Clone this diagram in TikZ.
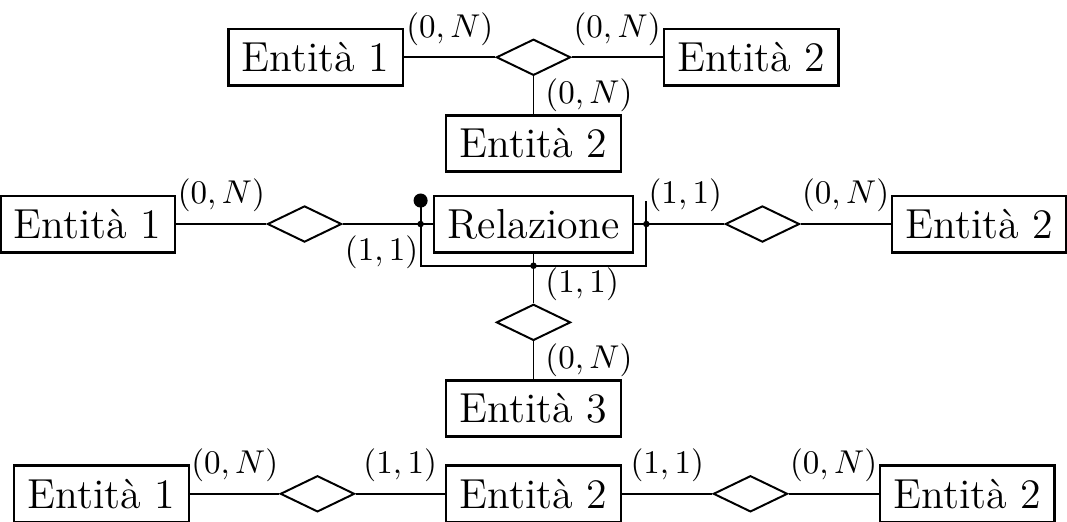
\documentclass[tikz,border=0pt]{standalone}
\usepackage{tikz}
\usetikzlibrary{positioning, calc, shapes.geometric}

\begin{document}
\begin{tikzpicture}[
    semithick,
    entitynode/.style={rectangle, draw=black, thick, font=\fontsize{12.7pt}{15pt}\selectfont, inner xsep=4.1pt, minimum height=0.6cm},
    relnode/.style={diamond, draw=black, inner sep=0pt, minimum width=0.79cm, minimum height=0.385cm},
]
\useasboundingbox (-5.68,-4.94) rectangle (5.68,0.61);
\node[relnode](d1) at (0,0){};
\node[entitynode](e1)[left = 0.97cm of d1]{Entità 1};
\node[entitynode](e2)[right = 0.97cm of d1]{Entità 2};
\node[entitynode](e3)[below = 0.4cm of d1]{Entità 2};
\draw (e1) -- node[above]{$(0,N)$} (d1);
\draw (d1) -- node[above]{$(0,N)$} (e2);
\draw (d1) -- node[right]{$(0,N)$} (e3);
\node[entitynode](r)[below = 0.23cm of e3]{Relazione};
\coordinate[left = 0.13cm of r](kl);
\coordinate[right = 0.13cm of r](kr);
\coordinate[below = 0.13cm of r](kb);
\coordinate[above = 0.25cm of kl](klt);
\coordinate[above = 0.25cm of kr](krt);
\node[relnode](d2)[left = 0.96cm of r]{};
\node[entitynode](e4)[left = 0.96cm of d2]{Entità 1};
\node[relnode](d3)[right = 0.96cm of r]{};
\node[entitynode](e5)[right = 0.96cm of d3]{Entità 2};
\node[relnode](d4)[below = 0.53cm of r]{};
\node[entitynode](e6)[below = 0.4cm of d4]{Entità 3};
\draw (e4) -- node[above]{$(0,N)$} (d2);
\draw (d2) -- node[below]{$(1,1)$} (kl) -- (r);
\draw (r) -- (kr) -- node[above]{$(1,1)$} (d3);
\draw (d3) -- node[above]{$(0,N)$} (e5);
\draw (r) -- (kb) -- node[right]{$(1,1)$} (d4);
\draw (d4) -- node[right]{$(0,N)$} (e6);
\draw (klt) -- (kl |- kb) -- (kr |- kb) -- (krt);
\fill (klt) circle (0.075);
\fill (kl) circle (0.035);
\fill (kr) circle (0.035);
\fill (kb) circle (0.035);
\node[entitynode](e8)[below = 0.28cm of e6]{Entità 2};
\node[relnode](d5)[left = 0.95cm of e8]{};
\node[entitynode](e7)[left = 0.95cm of d5]{Entità 1};
\node[relnode](d6)[right = 0.96cm of e8]{};
\node[entitynode](e9)[right = 0.96cm of d6]{Entità 2};
\draw (e7) -- node[above]{$(0,N)$} (d5);
\draw (d5) -- node[above]{$(1,1)$} (e8);
\draw (e8) -- node[above]{$(1,1)$} (d6);
\draw (d6) -- node[above]{$(0,N)$} (e9);
\end{tikzpicture}
\end{document}
